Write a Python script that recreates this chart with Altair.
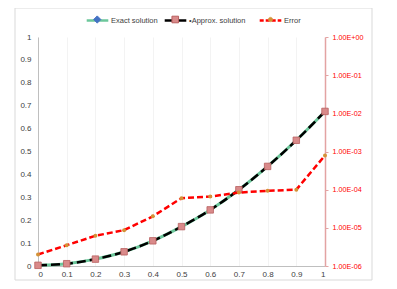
import altair as alt
import pandas as pd

# ---- data ----
x_vals = [0.0, 0.1, 0.2, 0.3, 0.4, 0.5, 0.6, 0.7, 0.8, 0.9, 1.0]
exact = [0.003, 0.010, 0.030, 0.062, 0.110, 0.172, 0.245, 0.333, 0.435, 0.549, 0.675]
approx = [0.003, 0.010, 0.030, 0.062, 0.110, 0.172, 0.245, 0.333, 0.435, 0.549, 0.675]
error = [2.0e-6, 3.5e-6, 6.2e-6, 8.7e-6, 2.0e-5, 6.0e-5, 6.6e-5, 8.4e-5, 9.3e-5, 1.0e-4, 7.9e-4]
series_names = ["Exact solution", "\u2022Approx. solution", "Error"]
x_ticks = [0, 0.1, 0.2, 0.3, 0.4, 0.5, 0.6, 0.7, 0.8, 0.9, 1]
y_ticks = [0, 0.1, 0.2, 0.3, 0.4, 0.5, 0.6, 0.7, 0.8, 0.9, 1]
err_ticks = [1e-6, 1e-5, 1e-4, 1e-3, 1e-2, 1e-1, 1]

df = pd.DataFrame({"x": x_vals, "exact": exact, "approx": approx, "error": error})

FONT = "Liberation Sans"
GREEN = "#6cc79b"
BLUE = "#4472c4"
BLACK = "#000000"
PINK = "#d98a8a"
PINK_EDGE = "#b85f5f"
RED = "#ff0000"
ORANGE = "#d49237"
LABEL = "#404040"

W, H = 287, 229

xenc = alt.X(
    "x:Q",
    scale=alt.Scale(domain=[0, 1], nice=False, zero=False),
    axis=alt.Axis(values=x_ticks, format=".1~f", grid=True, gridColor="#f3f3f3",
                  ticks=False, domainColor="#bfbfbf", labelPadding=4,
                  labelFontSize=8, labelColor=LABEL, labelFont=FONT, title=None),
)

yaxis_left = alt.Axis(values=y_ticks, format=".1~f", grid=False, ticks=False,
                      domainColor="#bfbfbf", labelPadding=7, labelFontSize=8,
                      labelColor=LABEL, labelFont=FONT, title=None)
yscale_left = alt.Scale(domain=[0, 1], nice=False, zero=False)

E = "round(log(datum.value)/LN10)"
err_label = f"'1.00E' + ({E} < 0 ? '-' : '+') + (abs({E}) < 10 ? '0' : '') + abs({E})"
yaxis_right = alt.Axis(orient="right", values=err_ticks, labelExpr=err_label, grid=False,
                       domainColor="#e3a3a3", domainWidth=1.5, tickColor="#e3a3a3",
                       tickSize=3, labelColor=RED, labelPadding=4, labelFontSize=7.2,
                       labelFont=FONT, title=None)
yscale_right = alt.Scale(type="log", domain=[1e-6, 1], nice=False)

LINE_PATH = "M-1.8,0H1.8"
SQUARE_PATH = "M-0.55,-0.55H0.55V0.55H-0.55Z"
DIAMOND_PATH = "M0,-0.6L0.6,0L0,0.6L-0.6,0Z"
CIRCLE_PATH = "M-0.38,0A0.38,0.38,0,1,1,0.38,0A0.38,0.38,0,1,1,-0.38,0Z"

LEG_Y = -24


def legend(xpos, path, sw, dash=None, marker=False, stroke=None, fill=None):
    kw = dict(orient="none", legendX=xpos, legendY=LEG_Y, title=None, symbolType=path,
              symbolSize=144, symbolStrokeWidth=sw,
              labelFont=FONT, labelFontSize=7.5, labelColor=LABEL, padding=0,
              labelOffset=6)
    if marker:
        kw["labelExpr"] = "''"
    if dash is not None:
        kw["symbolDash"] = dash
    if stroke is not None:
        kw["symbolStrokeColor"] = stroke
    if fill is not None:
        kw["symbolFillColor"] = fill
    return alt.Legend(**kw)


def named(i):
    return alt.Chart(df).transform_calculate(s="'" + series_names[i] + "'")


def scale(i, color):
    return alt.Scale(domain=[series_names[i]], range=[color])


LX = [52, 130, 225]
MX = [0.75, 0.75, 1.0]  # markers: thinner stroke -> shift to same centre

exact_line = named(0).mark_line(strokeWidth=3, interpolate="monotone").encode(
    x=xenc, y=alt.Y("exact:Q", scale=yscale_left, axis=yaxis_left),
    stroke=alt.Stroke("s:N", scale=scale(0, GREEN), legend=legend(LX[0], LINE_PATH, 2.5)),
)
exact_pts = named(0).mark_point(shape="diamond", filled=True, size=25, opacity=1).encode(
    x=xenc, y=alt.Y("exact:Q", scale=yscale_left, axis=yaxis_left),
    fill=alt.Fill("s:N", scale=scale(0, BLUE),
                  legend=legend(LX[0] + MX[0], DIAMOND_PATH, 1.0, marker=True, stroke=BLUE)),
)
approx_line = named(1).mark_line(strokeWidth=2.5, interpolate="monotone",
                                  strokeDash=[9, 4]).encode(
    x=xenc, y=alt.Y("approx:Q", scale=yscale_left, axis=yaxis_left),
    stroke=alt.Stroke("s:N", scale=scale(1, BLACK), legend=legend(LX[1], LINE_PATH, 2.5)),
)
approx_pts = named(1).mark_square(size=42, opacity=1, stroke=PINK_EDGE,
                                  strokeWidth=0.8).encode(
    x=xenc, y=alt.Y("approx:Q", scale=yscale_left, axis=yaxis_left),
    fill=alt.Fill("s:N", scale=scale(1, PINK),
                  legend=legend(LX[1] + MX[1], SQUARE_PATH, 1.0, marker=True, stroke=PINK_EDGE)),
)
err_line = named(2).mark_line(strokeWidth=2.5, strokeDash=[6, 3]).encode(
    x=xenc, y=alt.Y("error:Q", scale=yscale_right, axis=yaxis_right),
    stroke=alt.Stroke("s:N", scale=scale(2, RED),
                      legend=legend(LX[2], LINE_PATH, 2.5, dash=[4, 2])),
)
err_pts = named(2).mark_circle(size=16, opacity=1).encode(
    x=xenc, y=alt.Y("error:Q", scale=yscale_right, axis=yaxis_right),
    fill=alt.Fill("s:N", scale=scale(2, ORANGE),
                  legend=legend(LX[2] + MX[2], CIRCLE_PATH, 0.5, marker=True, stroke=ORANGE)),
)

frame = alt.Chart(pd.DataFrame({"a": [0]})).mark_rect(
    filled=False, stroke="#d9d9d9", strokeWidth=1
).encode(x=alt.value(-23), x2=alt.value(334), y=alt.value(-29), y2=alt.value(243))

left = alt.layer(frame, exact_line, exact_pts, approx_line, approx_pts).resolve_scale(
    stroke="independent", fill="independent")
right = alt.layer(err_line, err_pts).resolve_scale(stroke="independent", fill="independent")

chart = alt.layer(left, right).resolve_scale(
    y="independent", stroke="independent", fill="independent"
).properties(
    width=W, height=H,
    padding={"left": 30, "top": 29, "right": 48, "bottom": 15},
    autosize=alt.AutoSizeParams(type="none"),
    background="white",
).configure_view(stroke=None)

chart.save("out.html", embed_options={"renderer": "svg", "actions": False})
